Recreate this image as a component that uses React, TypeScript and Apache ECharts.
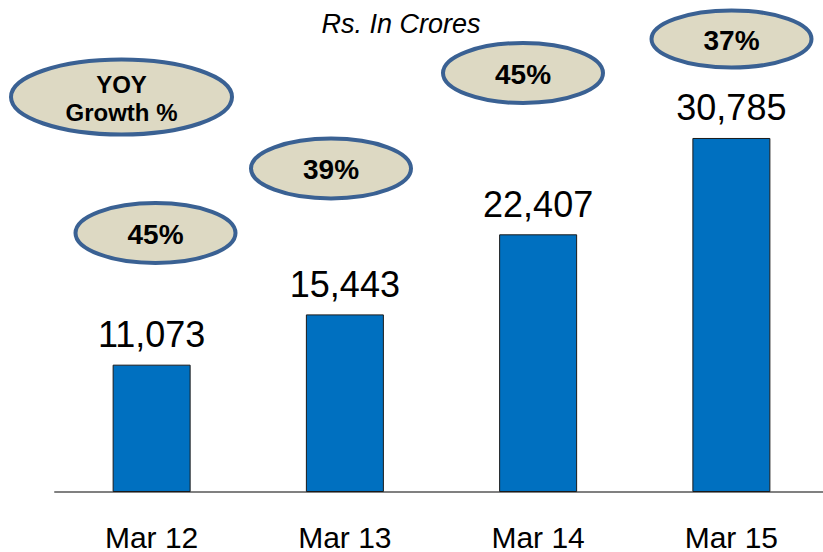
import React, { useEffect, useRef } from "react";
import * as echarts from "echarts";

const categories = ["Mar 12", "Mar 13", "Mar 14", "Mar 15"];
const values = [11073, 15443, 22407, 30785];
const growthLabels = ["45%", "39%", "45%", "37%"];
const unitTitle = "Rs. In Crores";
const growthTitle = "YOY\nGrowth %";

const FONT = "Liberation Sans, Arial, sans-serif";
const ELLIPSE_FILL = "#DDD9C3";
const ELLIPSE_STROKE = "#3A6193";

// ellipse placement (decoration positions)
const ellipseSpots = [
  { cx: 155.5, cy: 233, rx: 80, ry: 30 },
  { cx: 331, cy: 168.5, rx: 80, ry: 30 },
  { cx: 523, cy: 73, rx: 80, ry: 30 },
  { cx: 731.5, cy: 39, rx: 80, ry: 28.5 },
];
const titleSpot = { cx: 121.5, cy: 97, rx: 110.5, ry: 37.5 };

function bubble(spot: { cx: number; cy: number; rx: number; ry: number }, text: string, fontSize: number, lineHeight?: number) {
  return {
    type: "group",
    children: [
      {
        type: "ellipse",
        shape: { cx: spot.cx, cy: spot.cy, rx: spot.rx, ry: spot.ry },
        style: { fill: ELLIPSE_FILL, stroke: ELLIPSE_STROKE, lineWidth: 4 },
      },
      {
        type: "text",
        x: spot.cx,
        y: spot.cy + 1,
        style: {
          text,
          fill: "#000",
          fontSize,
          fontWeight: "bold",
          fontFamily: FONT,
          textAlign: "center",
          textVerticalAlign: "middle",
          lineHeight: lineHeight ?? fontSize,
        },
      },
    ],
  };
}

export default function App() {
  const ref = useRef<HTMLDivElement>(null);
  useEffect(() => {
    if (!ref.current) return;
    const chart = echarts.init(ref.current, undefined, { renderer: "svg" });
    chart.setOption({
      animation: false,
      backgroundColor: "#fff",
      grid: {
        left: 55,
        width: 773,
        top: 32,
        bottom: 60,
        containLabel: false,
        outerBoundsMode: "none",
      },
      xAxis: {
        type: "category",
        data: categories,
        axisLine: { show: true, lineStyle: { color: "#808080", width: 2 } },
        axisTick: { show: false },
        axisLabel: { color: "#000", fontSize: 30, fontFamily: FONT, margin: 30 },
      },
      yAxis: {
        type: "value",
        min: 0,
        max: 40000,
        show: false,
        splitLine: { show: false },
      },
      series: [
        {
          type: "bar",
          data: values,
          barWidth: 78,
          itemStyle: { color: "#0070C0", borderColor: "#1a1a1a", borderWidth: 1 },
          label: {
            show: true,
            position: "top",
            distance: 12,
            color: "#000",
            fontSize: 36,
            fontFamily: FONT,
            formatter: (p: any) => Number(p.value).toLocaleString("en-US"),
          },
        },
      ],
      graphic: [
        {
          type: "text",
          x: 401,
          y: 24,
          style: {
            text: unitTitle,
            fill: "#000",
            fontSize: 27,
            fontStyle: "italic",
            fontFamily: FONT,
            textAlign: "center",
            textVerticalAlign: "middle",
          },
        },
        bubble(titleSpot, growthTitle, 24, 28),
        ...growthLabels.map((g, i) => bubble(ellipseSpots[i], g, 28)),
      ],
    });
    return () => chart.dispose();
  }, []);
  return <div ref={ref} style={{ position: "fixed", left: 0, top: 0, width: 823, height: 552 }} />;
}
